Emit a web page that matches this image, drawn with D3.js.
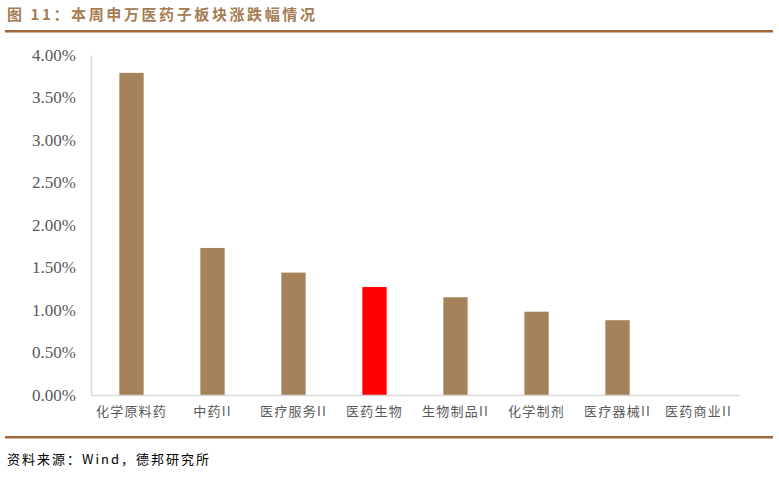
<!DOCTYPE html>
<html>
<head>
<meta charset="utf-8">
<script src="https://cdn.jsdelivr.net/npm/d3@7"></script>
<style>
  body { margin: 0; background: #fff; }
</style>
</head>
<body>
<svg id="main"></svg>
<script>
var categories = ["化学原料药", "中药II", "医疗服务II", "医药生物", "生物制品II", "化学制剂", "医疗器械II", "医药商业II"];
var values = [3.79, 1.73, 1.44, 1.27, 1.15, 0.98, 0.88, 0.00];
var yTicks = [0, 0.5, 1, 1.5, 2, 2.5, 3, 3.5, 4];
var highlight = "医药生物";

var w = 779;
var h = 479;
var padLeft = 91, padRight = 739, padTop = 55, padBottom = 395;

var svg = d3.select("#main")
  .attr("width", w)
  .attr("height", h);

// title + rules
svg.append("text")
  .attr("x", 7)
  .attr("y", 20)
  .attr("fill", "#a67c52")
  .attr("font-family", "'Noto Sans CJK SC', sans-serif")
  .attr("font-weight", "bold")
  .attr("font-size", 15)
  .attr("letter-spacing", 2.6)
  .text("图 11：本周申万医药子板块涨跌幅情况");

svg.append("rect").attr("x", 5).attr("y", 30).attr("width", 768).attr("height", 2.5).attr("fill", "#a0693c");
svg.append("rect").attr("x", 5).attr("y", 436).attr("width", 768).attr("height", 2.5).attr("fill", "#a0693c");

svg.append("text")
  .attr("x", 7)
  .attr("y", 464)
  .attr("fill", "#000")
  .attr("font-family", "'Noto Sans CJK SC', sans-serif")
  .attr("font-size", 13)
  .attr("letter-spacing", 2)
  .text("资料来源：Wind，德邦研究所");

var xScale = d3.scaleBand()
  .domain(categories)
  .range([padLeft, padRight])
  .paddingInner(0.7)
  .paddingOuter(0.35);

var yScale = d3.scaleLinear()
  .domain([0, 4])
  .range([padBottom, padTop]);

svg.selectAll("rect.bar")
  .data(values)
  .enter()
  .append("rect")
  .attr("class", "bar")
  .attr("x", function(d, i) { return xScale(categories[i]); })
  .attr("y", function(d) { return yScale(d); })
  .attr("width", xScale.bandwidth())
  .attr("height", function(d) { return yScale(0) - yScale(d); })
  .attr("fill", function(d, i) { return categories[i] === highlight ? "#ff0000" : "#a5825a"; });

// y axis
var yAxis = d3.axisLeft(yScale)
  .tickValues(yTicks)
  .tickSize(0)
  .tickPadding(15)
  .tickFormat(function(d) { return d.toFixed(2) + "%"; });

var gy = svg.append("g")
  .attr("transform", "translate(" + padLeft + ",0)")
  .call(yAxis);
gy.select(".domain").attr("stroke", "#d9d9d9").attr("stroke-width", 1.5);
gy.selectAll("text")
  .attr("fill", "#595959")
  .attr("font-family", "'Liberation Serif', 'Times New Roman', serif")
  .attr("font-size", 17);

// x axis
var xAxis = d3.axisBottom(xScale).tickSize(0).tickPadding(12);
var gx = svg.append("g")
  .attr("transform", "translate(0," + padBottom + ")")
  .call(xAxis);
gx.select(".domain").attr("stroke", "#d9d9d9").attr("stroke-width", 1.5);
gx.selectAll("text")
  .attr("fill", "#595959")
  .attr("font-family", "'Noto Sans CJK SC', sans-serif")
  .attr("font-size", 13)
  .attr("letter-spacing", 1.2);
</script>
</body>
</html>
